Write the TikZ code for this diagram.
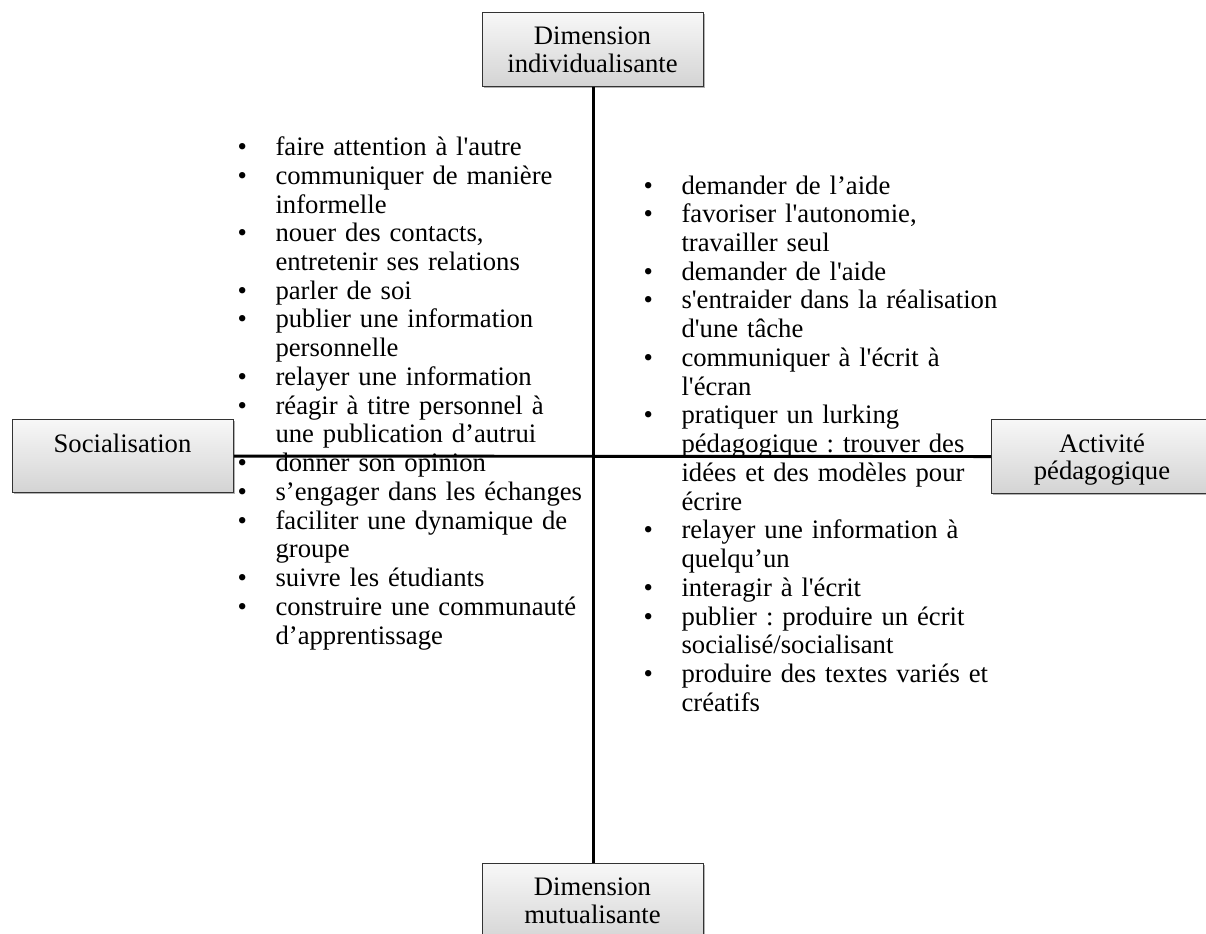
\documentclass[tikz,border=0pt]{standalone}
\usepackage{fontspec}
\setmainfont{Liberation Serif}[Ligatures=TeXOff]
\usetikzlibrary{shadows}
\frenchspacing
\newcommand{\bitem}[1]{\noindent\hangindent=28.5pt\hangafter=1\makebox[28.5pt][l]{•}#1\par}
\tikzset{
  boxst/.style={draw=black!80, line width=0.8pt, top color=black!3, bottom color=black!17,
    inner sep=0pt, anchor=north west,
    drop shadow={shadow xshift=1.3pt, shadow yshift=-1.3pt, fill=black, opacity=0.3}},
  lbl/.style={font=\fontsize{20}{21}\selectfont, inner sep=0pt, anchor=base},
  listst/.style={font=\fontsize{20}{21.56}\selectfont\frenchspacing, text width=420pt, align=left,
    inner sep=0pt, anchor=base west},
  axisline/.style={line width=2.2pt, black},
}
\begin{document}
\begin{tikzpicture}[x=0.75pt, y=-0.75pt]
\useasboundingbox (0,0) rectangle (1206,933);
% boxes
\node[boxst, minimum width=165.75pt, minimum height=55.5pt] (top) at (482,12) {};
\node[boxst, minimum width=165.75pt, minimum height=54.75pt] (soc) at (12,419) {};
\node[boxst, minimum width=166.5pt, minimum height=55.5pt] (act) at (991,419) {};
\node[boxst, minimum width=165.75pt, minimum height=60pt] (bot) at (482,863) {};
% axes
\draw[axisline] (top.south) -- (bot.north);
\draw[axisline] (soc.east) -- (act.west);
% box labels
\node[lbl] (topa) at (592.5,44) {Dimension};
\node[lbl] (topb) at (592.5,72) {individualisante};
\node[lbl] (soca) at (122.5,452) {Socialisation};
\node[lbl] (acta) at (1102,452) {Activité};
\node[lbl] (actb) at (1102,479.5) {pédagogique};
\node[lbl] (bota) at (592.5,895) {Dimension};
\node[lbl] (botb) at (592.5,923) {mutualisante};
% lists
\node[listst] (leftlist) at (237.3,155.5) {%
\bitem{faire attention à l'autre}
\bitem{communiquer de manière\newline informelle}
\bitem{nouer des contacts,\newline entretenir ses relations}
\bitem{parler de soi}
\bitem{publier une information\newline personnelle}
\bitem{relayer une information}
\bitem{réagir à titre personnel à\newline une publication d’autrui}
\bitem{donner son opinion}
\bitem{s’engager dans les échanges}
\bitem{faciliter une dynamique de\newline groupe}
\bitem{suivre les étudiants}
\bitem{construire une communauté\newline d’apprentissage}};
\node[listst] (rightlist) at (643.3,194) {%
\bitem{demander de l’aide}
\bitem{favoriser l'autonomie,\newline travailler seul}
\bitem{demander de l'aide}
\bitem{s'entraider dans la réalisation\newline d'une tâche}
\bitem{communiquer à l'écrit à\newline l'écran}
\bitem{pratiquer un lurking\newline pédagogique : trouver des\newline idées et des modèles pour\newline écrire}
\bitem{relayer une information à\newline quelqu’un}
\bitem{interagir à l'écrit}
\bitem{publier : produire un écrit\newline socialisé/socialisant}
\bitem{produire des textes variés et\newline créatifs}};
\end{tikzpicture}
\end{document}
